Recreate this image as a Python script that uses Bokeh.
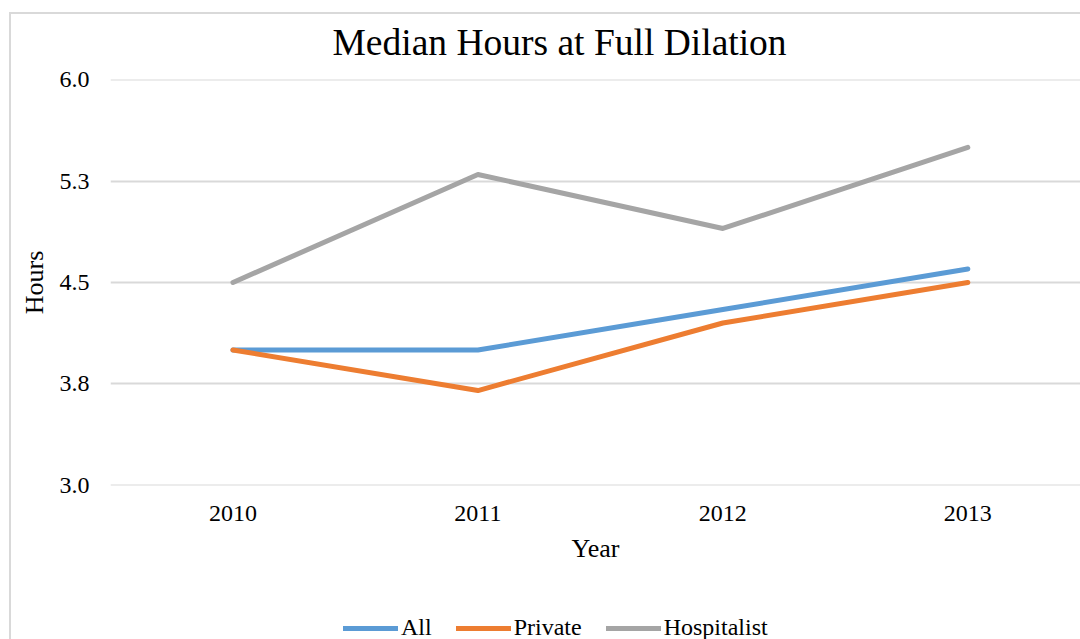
from bokeh.plotting import figure
from bokeh.models import Range1d, FixedTicker, Legend, LegendItem
from bokeh.layouts import column
from bokeh.embed import file_html
from bokeh.resources import INLINE

years = ["2010", "2011", "2012", "2013"]
all_vals = [4.0, 4.0, 4.3, 4.6]
private_vals = [4.0, 3.7, 4.2, 4.5]
hosp_vals = [4.5, 5.3, 4.9, 5.5]
y_ticks = [3.0, 3.75, 4.5, 5.25, 6.0]
y_tick_labels = ["3.0", "3.8", "4.5", "5.3", "6.0"]

FONT = "Liberation Serif"
BORDER = "#d9d9d9"
x = list(range(len(years)))
colors = ["#5B9BD5", "#ED7D31", "#A5A5A5"]
names = ["All", "Private", "Hospitalist"]
series = [all_vals, private_vals, hosp_vals]

p = figure(width=1071, height=600, output_backend="svg", toolbar_location=None,
           x_range=Range1d(-0.5, 3.46), y_range=Range1d(2.997, 6.003),
           min_border_left=101, min_border_right=0, min_border_top=73, min_border_bottom=121)
p.outline_line_color = None
p.background_fill_color = "white"
p.border_fill_color = None

p.title.text = "Median Hours at Full Dilation"
p.title.text_font = FONT
p.title.text_font_size = "37.5px"
p.title.text_font_style = "normal"
p.title.text_color = "black"
p.title.align = "left"
p.title.vertical_align = "top"
p.title.offset = 222
p.title.standoff = 29

p.xgrid.visible = False
p.ygrid.grid_line_color = BORDER
p.ygrid.grid_line_width = 2
p.ygrid.ticker = FixedTicker(ticks=y_ticks)

p.yaxis.ticker = FixedTicker(ticks=y_ticks)
p.yaxis.major_label_overrides = {t: l for t, l in zip(y_ticks, y_tick_labels)}
p.xaxis.ticker = FixedTicker(ticks=x)
p.xaxis.major_label_overrides = {i: y for i, y in zip(x, years)}

for ax in (p.xaxis[0], p.yaxis[0]):
    ax.axis_line_color = None
    ax.major_tick_line_color = None
    ax.minor_tick_line_color = None
    ax.major_label_text_font = FONT
    ax.major_label_text_font_size = "24px"
    ax.major_label_text_color = "black"
    ax.axis_label_text_font = FONT
    ax.axis_label_text_font_size = "26px"
    ax.axis_label_text_font_style = "normal"
    ax.axis_label_text_color = "black"

p.xaxis.axis_label = "Year"
p.yaxis.axis_label = "Hours"
p.xaxis.major_label_standoff = 14
p.xaxis.axis_label_standoff = 10
p.yaxis.major_label_standoff = 15
p.yaxis.axis_label_standoff = 8

for name, vals, c in zip(names, series, colors):
    p.line(x, vals, line_color=c, line_width=5, line_cap="round", line_join="round")

# legend strip below the chart
p2 = figure(width=1071, height=33, output_backend="svg", toolbar_location=None,
            x_axis_type=None, y_axis_type=None,
            min_border_left=0, min_border_right=0, min_border_top=0, min_border_bottom=0)
p2.outline_line_color = None
p2.background_fill_color = None
p2.border_fill_color = None
p2.grid.visible = False
items = []
for name, c in zip(names, colors):
    r = p2.line([0], [float("nan")], line_color=c, line_width=5, line_cap="round")
    items.append(LegendItem(label=name, renderers=[r]))
legend = Legend(items=items, orientation="horizontal", location=(233, -2),
                glyph_width=55, glyph_height=22, label_height=22, label_standoff=3,
                spacing=24, padding=0, margin=0, border_line_color=None,
                background_fill_alpha=0, label_text_font=FONT,
                label_text_font_size="24px", label_text_color="black")
p2.add_layout(legend, "center")

layout = column(p, p2, spacing=0)
layout.styles = {
    "margin-top": "6px", "margin-left": "9px",
    "background": (f"linear-gradient({BORDER},{BORDER}) 0 6px / 100% 2px no-repeat, "
                   f"linear-gradient({BORDER},{BORDER}) 0 6px / 2px 100% no-repeat, white"),
}

open("out.html", "w").write(file_html(layout, INLINE))
